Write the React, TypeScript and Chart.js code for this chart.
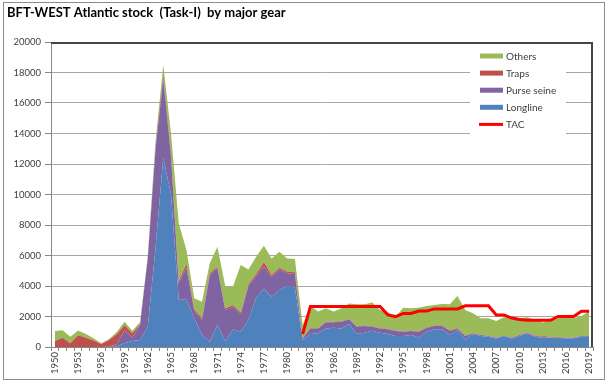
import React, { useEffect, useRef } from 'react';
import { Chart, registerables } from 'chart.js';
Chart.register(...registerables);

const years: string[] = Array.from({ length: 70 }, (_, i) => String(1950 + i));

const longline = [
  0, 0, 0, 0, 0, 0, 0, 0, 30, 270,
  390, 460, 1330, 6500, 12400, 10000, 3100, 3100, 1880, 790,
  350, 1440, 400, 1150, 1020, 1770, 3250, 3800, 3300, 3740,
  4000, 3900, 460, 850, 900, 1220, 1270, 1220, 1510, 850,
  940, 1070, 940, 850, 720, 720, 790, 630, 1000, 1160,
  1160, 790, 1110, 500, 850, 720, 680, 550, 720, 550,
  720, 900, 680, 610, 610, 590, 570, 570, 680, 680,
];

const purseSeine = [
  0, 0, 0, 0, 0, 0, 0, 20, 170, 830,
  240, 980, 4470, 6500, 5200, 2500, 1100, 2100, 500, 980,
  4370, 3720, 2030, 1500, 1130, 2230, 1400, 1470, 1310, 1340,
  830, 890, 110, 370, 320, 400, 350, 440, 300, 480,
  440, 260, 280, 310, 330, 280, 260, 370, 250, 220,
  220, 280, 110, 220, 50, 70, 40, 60, 20, 60,
  70, 40, 40, 70, 20, 40, 40, 40, 40, 40,
];

const traps = [
  400, 600, 250, 770, 600, 420, 200, 440, 630, 340,
  270, 50, 50, 100, 300, 200, 150, 250, 120, 110,
  110, 110, 110, 100, 120, 120, 130, 280, 110, 120,
  110, 110, 20, 30, 30, 30, 30, 30, 30, 30,
  30, 30, 30, 30, 30, 40, 40, 40, 40, 30,
  30, 30, 30, 20, 20, 20, 20, 20, 20, 20,
  20, 20, 30, 60, 30, 20, 20, 20, 20, 20,
];

const others = [
  650, 500, 430, 310, 250, 150, 40, 60, 155, 220,
  170, 130, 150, 400, 600, 1300, 3750, 900, 690, 1090,
  660, 1310, 1460, 1200, 3110, 970, 1140, 1090, 1090, 1050,
  870, 870, 850, 1440, 1070, 890, 670, 850, 1020, 1440,
  1390, 1550, 1180, 1080, 910, 1540, 1450, 1540, 1400, 1340,
  1410, 1700, 2090, 1690, 1290, 1070, 1140, 1070, 1190, 1360,
  1070, 990, 1060, 860, 1040, 1230, 1320, 1250, 1290, 1580,
];

const tac: (number | null)[] = [
  null, null, null, null, null, null, null, null, null, null,
  null, null, null, null, null, null, null, null, null, null,
  null, null, null, null, null, null, null, null, null, null,
  null, null, 850, 2660, 2660, 2660, 2660, 2660, 2660, 2660,
  2660, 2660, 2660, 2106, 1995, 2200, 2200, 2354, 2354, 2500,
  2500, 2500, 2500, 2700, 2700, 2700, 2700, 2100, 2100, 1900,
  1800, 1750, 1750, 1750, 1750, 2000, 2000, 2000, 2350, 2350,
];

const yTicks = [0, 2000, 4000, 6000, 8000, 10000, 12000, 14000, 16000, 18000, 20000];

const TITLE = 'BFT-WEST Atlantic stock  (Task-I)  by major gear';
const FONT = 'Lato';

export default function App() {
  const ref = useRef<HTMLCanvasElement>(null);

  useEffect(() => {
    const canvas = ref.current!;
    const decor = {
      id: 'decor',
      afterDatasetsDraw(chart: any) {
        const { ctx, chartArea: a } = chart;
        ctx.save();
        const lx = a.right - 123;
        const ly = a.top + 4;
        ctx.fillStyle = '#ffffff';
        ctx.fillRect(lx, ly, 96, 89);
        const order = [3, 2, 1, 0, 4];
        ctx.font = `10px ${FONT}`;
        ctx.textBaseline = 'middle';
        ctx.textAlign = 'left';
        order.forEach((di, i) => {
          const ds = chart.data.datasets[di];
          const y = a.top + 14 + i * 17.1;
          if (di === 4) {
            ctx.strokeStyle = ds.borderColor;
            ctx.lineWidth = 3;
            ctx.beginPath();
            ctx.moveTo(lx + 9, y);
            ctx.lineTo(lx + 33, y);
            ctx.stroke();
          } else {
            ctx.fillStyle = ds.backgroundColor;
            ctx.fillRect(lx + 10, y - 2.5, 23, 5);
          }
          ctx.fillStyle = '#404040';
          ctx.fillText(ds.label, lx + 36, y + 0.5);
        });
        ctx.restore();
      },
      afterDraw(chart: any) {
        const { ctx, chartArea: a } = chart;
        ctx.save();
        ctx.strokeStyle = '#454545';
        ctx.lineWidth = 2;
        ctx.beginPath();
        ctx.moveTo(a.left, a.top + 1);
        ctx.lineTo(a.right - 1, a.top + 1);
        ctx.lineTo(a.right - 1, a.bottom);
        ctx.stroke();
        ctx.fillStyle = '#000000';
        ctx.font = `bold 13px ${FONT}`;
        ctx.textBaseline = 'middle';
        ctx.textAlign = 'left';
        ctx.fillText(TITLE, 7, 13);
        ctx.strokeStyle = '#8c8c8c';
        ctx.lineWidth = 1;
        ctx.strokeRect(3.5, 2.5, 601, 377);
        ctx.restore();
      },
    };

    const area = (label: string, data: number[], color: string, fill: any) => ({
      label,
      data,
      backgroundColor: color,
      borderColor: 'rgba(0,0,0,0)',
      borderWidth: 0,
      fill,
      pointRadius: 0,
      tension: 0,
      stack: 'catch',
      order: 1,
    });

    const chart = new Chart(canvas, {
      type: 'line',
      data: {
        labels: years,
        datasets: [
          area('Longline', longline, '#4F81BD', 'origin'),
          area('Purse seine', purseSeine, '#8064A2', '-1'),
          area('Traps', traps, '#C0504D', '-1'),
          area('Others', others, '#9BBB59', '-1'),
          {
            label: 'TAC',
            data: tac,
            borderColor: '#FF0000',
            backgroundColor: '#FF0000',
            borderWidth: 3,
            fill: false,
            pointRadius: 0,
            tension: 0,
            stack: 'tac',
            order: 0,
            spanGaps: false,
          } as any,
        ],
      },
      options: {
        animation: false,
        responsive: false,
        maintainAspectRatio: false,
        layout: { padding: { left: 0, top: 42, right: 18, bottom: 0 } },
        plugins: { legend: { display: false }, tooltip: { enabled: false }, title: { display: false } },
        scales: {
          x: {
            type: 'category',
            offset: true,
            grid: {
              display: true,
              drawOnChartArea: false,
              drawTicks: true,
              tickLength: 4,
              tickColor: '#868686',
              offset: true,
            },
            border: { display: true, color: '#868686', width: 1 },
            ticks: {
              autoSkip: false,
              minRotation: 90,
              maxRotation: 90,
              padding: 1,
              color: '#404040',
              font: { family: FONT, size: 9.5 },
              callback: (_v: any, i: number) => (i % 3 === 0 ? years[i] : ''),
            },
            afterFit: (s: any) => { s.height = 40; },
          },
          y: {
            stacked: true,
            min: 0,
            max: 20000,
            afterBuildTicks: (s: any) => { s.ticks = yTicks.map((v) => ({ value: v })); },
            grid: {
              color: '#a6a6a6',
              lineWidth: 1,
              tickColor: '#868686',
              tickLength: 6,
              drawTicks: true,
            },
            border: { display: true, color: '#868686', width: 1 },
            ticks: {
              padding: 4,
              color: '#404040',
              font: { family: FONT, size: 9.5 },
              callback: (v: any) => String(v),
            },
            afterFit: (s: any) => { s.width = 51; },
          },
        },
      },
      plugins: [decor],
    } as any);

    return () => chart.destroy();
  }, []);

  return (
    <div style={{ position: 'absolute', left: 0, top: 0, width: 611, height: 387, background: '#fff' }}>
      <canvas ref={ref} width={611} height={387} style={{ display: 'block' }} />
    </div>
  );
}
